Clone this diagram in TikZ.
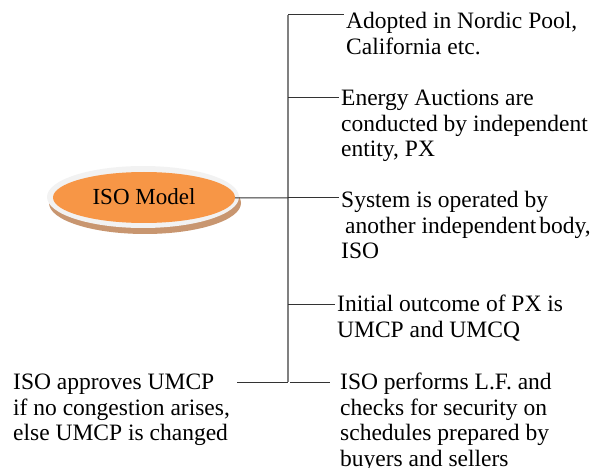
\documentclass[tikz,border=0pt]{standalone}
\usepackage{fontspec}
\setmainfont{Liberation Serif}
\newfontfamily\isoserif{Liberation Serif}
\usetikzlibrary{shapes.geometric}
\tikzset{
  txt/.style={anchor=north west, align=left, inner xsep=2pt, inner ysep=0pt,
    font=\isoserif\fontsize{23.5}{25.5}\selectfont},
  branch/.style={draw=black!80, line width=1pt},
  bus/.style={draw=gray, line width=1.8pt},
}
\begin{document}
\begin{tikzpicture}[x=1pt,y=-1pt]
%Define all colors here.
\definecolor{isofill}{RGB}{247,150,70}
\definecolor{isoring}{RGB}{242,242,242}
\definecolor{isoshadow}{RGB}{200,150,112}
\useasboundingbox (0,0) rectangle (603,468);

%ISO ellipse
\fill[isoshadow] (145,203) ellipse [x radius=96, y radius=31];
\fill[isoring] (143,197) ellipse [x radius=96, y radius=31];
\node(iso) at (144,197.5) [ellipse, fill=isofill, minimum width=182, minimum height=51, inner sep=0pt, font=\isoserif\fontsize{23}{25}\selectfont] {\raisebox{2pt}{ISO Model}};

%bus
\coordinate (b1) at (288,15);
\coordinate (b2) at (288,98);
\coordinate (b3) at (288,198);
\coordinate (b4) at (288,304);
\coordinate (b5) at (288,382);
\draw[bus] (b1) -- (b5);

%texts
\node(t1) at (344,12) [txt] {Adopted in Nordic Pool,\\California etc.};
\node(t2) at (339,90) [txt] {Energy Auctions are\\conducted by independent\\entity, PX};
\node(t3) at (339,191) [txt] {System is operated by\\\hspace{4pt}another independent\hspace{-3pt} body,\\ISO};
\node(t4) at (335,295) [txt] {Initial outcome of PX is\\UMCP and UMCQ};
\node(t5) at (338,373) [txt] {ISO performs L.F. and\\checks for security on\\schedules prepared by\\buyers and sellers};
\node(lft) at (11,374) [txt] {ISO approves UMCP\\if no congestion arises,\\else UMCP is changed};

\draw[branch] (iso) -- (b3);
\draw[branch] (b1) -- (b1 -| t1.west);
\draw[branch] (b2) -- (b2 -| t2.west);
\draw[branch] (b3) -- (b3 -| t3.west);
\draw[branch] (b4) -- (b4 -| t4.west);
\draw[branch, shorten <=2pt, shorten >=8pt] (b5) -- (b5 -| t5.west);
\draw[branch, shorten <=5pt] (lft.east |- b5) -- (b5);
\end{tikzpicture}
\end{document}
